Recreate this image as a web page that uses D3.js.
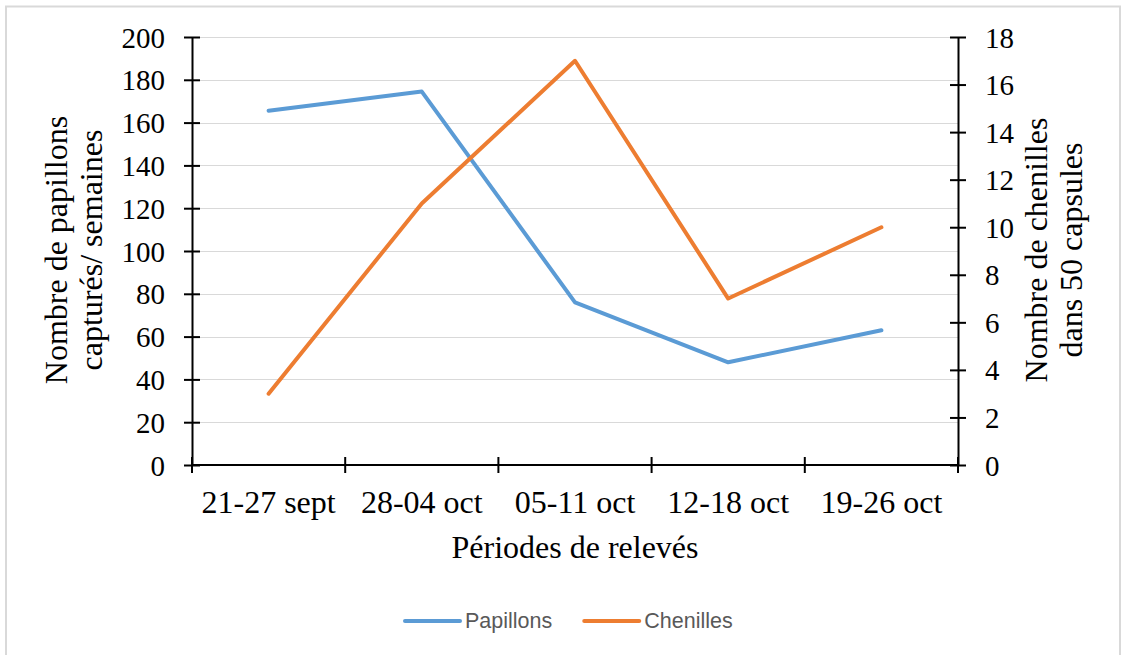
<!DOCTYPE html>
<html lang="fr">
<head>
<meta charset="UTF-8">
<title>Papillons et chenilles</title>
<script src="https://d3js.org/d3.v7.min.js"></script>
<style>
  body { margin: 0; background: #fff; }
  svg { display: block; }
  .serif { font-family: "Liberation Serif", "Times New Roman", serif; fill: #000; }
</style>
</head>
<body>
<div id="chart"></div>
<script>
// données
const categories = ["21-27 sept", "28-04 oct", "05-11 oct", "12-18 oct", "19-26 oct"];
const papillons = [165.5, 174.5, 76, 48, 63];
const chenilles = [3, 11, 17, 7, 10];
const leftTicks = [0, 20, 40, 60, 80, 100, 120, 140, 160, 180, 200];
const rightTicks = [0, 2, 4, 6, 8, 10, 12, 14, 16, 18];
const series = [
  { name: "Papillons", values: papillons, color: "#5b9bd5", axis: "left" },
  { name: "Chenilles", values: chenilles, color: "#ed7d31", axis: "right" }
];

const W = 1127, H = 655;
const svg = d3.select("#chart").append("svg")
  .attr("width", W).attr("height", H);

svg.append("rect").attr("width", W).attr("height", H).attr("fill", "#fff");
// cadre
svg.append("rect")
  .attr("x", 6).attr("y", 6.5).attr("width", 1114).attr("height", 670)
  .attr("fill", "none").attr("stroke", "#d9d9d9").attr("stroke-width", 2);

const x = d3.scaleBand().domain(categories).range([192, 958]).padding(0);
const yL = d3.scaleLinear().domain([0, 200]).range([465, 37]);
const yR = d3.scaleLinear().domain([0, 18]).range([465, 37]);

// grille
svg.append("g").selectAll("line")
  .data(leftTicks.filter(d => d > 0))
  .join("line")
  .attr("x1", 192).attr("x2", 958)
  .attr("y1", d => Math.round(yL(d)) + 0.5).attr("y2", d => Math.round(yL(d)) + 0.5)
  .attr("stroke", "#d9d9d9").attr("stroke-width", 1);

// axe gauche
const gL = svg.append("g").attr("transform", "translate(192,0)")
  .call(d3.axisLeft(yL).tickValues(leftTicks).tickSizeInner(8).tickSizeOuter(0).tickPadding(19));
gL.selectAll(".tick line").attr("x1", 8);

// axe droit
const gR = svg.append("g").attr("transform", "translate(958,0)")
  .call(d3.axisRight(yR).tickValues(rightTicks).tickSizeInner(8).tickSizeOuter(0).tickPadding(19));
gR.selectAll(".tick line").attr("x1", -8);

[gL, gR].forEach(g => {
  g.attr("font-size", null).attr("font-family", null);
  g.select(".domain").attr("stroke", "#000").attr("stroke-width", 2);
  g.selectAll(".tick line").attr("stroke", "#000").attr("stroke-width", 2);
  g.selectAll(".tick text").attr("class", "serif").attr("dy", null)
    .attr("dominant-baseline", "central").style("font-size", "29px");
});

// axe des x : graduations entre les catégories
const gX = svg.append("g").attr("transform", "translate(0,465)");
gX.append("line").attr("x1", 192).attr("x2", 958).attr("stroke", "#000").attr("stroke-width", 2);
const bounds = categories.map(c => x(c)).concat([x.range()[1]]);
gX.selectAll("line.tk").data(bounds).join("line").attr("class", "tk")
  .attr("x1", d => d).attr("x2", d => d).attr("y1", -8).attr("y2", 8)
  .attr("stroke", "#000").attr("stroke-width", 2);
gX.selectAll("text").data(categories).join("text")
  .attr("class", "serif")
  .attr("x", d => x(d) + x.bandwidth() / 2).attr("y", 48)
  .attr("text-anchor", "middle")
  .style("font-size", "32px")
  .text(d => d);

// courbes
series.forEach(s => {
  const y = s.axis === "left" ? yL : yR;
  const line = d3.line()
    .x((d, i) => x(categories[i]) + x.bandwidth() / 2)
    .y(d => y(d));
  svg.append("path").datum(s.values)
    .attr("d", line)
    .attr("fill", "none").attr("stroke", s.color).attr("stroke-width", 4)
    .attr("stroke-linecap", "round").attr("stroke-linejoin", "round");
});

// titres
function vTitle(lines, bx, cy, gap) {
  lines.forEach((t, i) => {
    svg.append("text").attr("class", "serif")
      .attr("transform", `translate(${bx + i * gap},${cy}) rotate(-90)`)
      .attr("text-anchor", "middle")
      .style("font-size", "32px").text(t);
  });
}
vTitle(["Nombre de papillons", "capturés/ semaines"], 67, 250, 35);
vTitle(["Nombre de chenilles", "dans 50 capsules"], 1047, 250, 35);

svg.append("text").attr("class", "serif")
  .attr("x", 575).attr("y", 558)
  .attr("text-anchor", "middle")
  .style("font-size", "32px").text("Périodes de relevés");

// légende
const legend = svg.append("g").attr("transform", "translate(405,621)");
let lx = 0;
series.forEach(s => {
  const item = legend.append("g").attr("transform", `translate(${lx},0)`);
  item.append("line").attr("x1", 0).attr("x2", 55)
    .attr("stroke", s.color).attr("stroke-width", 4).attr("stroke-linecap", "round");
  const t = item.append("text").attr("x", 60).attr("dominant-baseline", "central")
    .style("font-family", "'Liberation Sans', Arial, sans-serif").style("font-size", "21.5px")
    .attr("fill", "#595959").text(s.name);
  lx += 60 + t.node().getComputedTextLength() + 32;
});
</script>
</body>
</html>
